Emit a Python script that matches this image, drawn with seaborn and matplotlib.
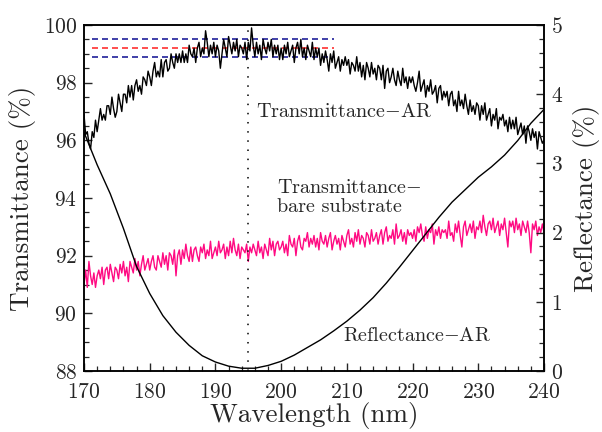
import numpy as np
import pandas as pd
import matplotlib
matplotlib.use("Agg")
import matplotlib.pyplot as plt
import seaborn as sns
from matplotlib.ticker import MultipleLocator

# transmittance scans, 170-240 nm every 0.25 nm
wl_start, wl_stop = 170, 240

# AR coated sample, transmittance (%)
t_ar = [96.9, 96.2, 96.3, 95.9, 95.7, 96.3, 96.1, 96.7, 96.3, 96.7, 97.1, 96.7, 96.9, 96.7, 97.2, 97.2, 96.9, 97.5, 97.1, 96.8,
        97.0, 97.6, 97.3, 97.0, 97.6, 97.6, 97.3, 97.9, 97.5, 97.9, 97.4, 97.9, 98.1, 97.7, 97.9, 97.6, 98.2, 98.1, 97.9, 98.4,
        98.2, 97.9, 98.4, 98.7, 98.2, 98.4, 98.2, 98.8, 98.2, 98.7, 98.8, 98.4, 98.5, 99.0, 98.7, 98.5, 99.0, 98.7, 99.0, 98.7,
        99.1, 98.7, 99.0, 98.7, 99.3, 99.0, 98.9, 99.2, 98.7, 99.2, 99.4, 98.9, 99.2, 99.0, 99.8, 99.4, 98.9, 99.3, 99.0, 99.4,
        98.9, 99.3, 99.1, 98.5, 99.0, 99.5, 99.2, 98.9, 99.6, 99.3, 99.0, 99.4, 99.1, 99.5, 98.9, 99.3, 99.2, 99.0, 99.4, 98.8,
        99.4, 99.1, 99.9, 99.3, 98.9, 99.4, 99.0, 99.3, 98.8, 99.5, 99.2, 99.0, 99.4, 99.1, 99.5, 98.9, 99.3, 99.0, 99.3, 98.8,
        99.2, 98.8, 99.3, 99.0, 99.4, 98.9, 99.1, 99.3, 98.7, 99.2, 99.4, 99.0, 99.5, 98.9, 99.2, 98.8, 99.3, 99.1, 98.9, 99.4,
        98.8, 99.2, 98.9, 99.2, 98.6, 99.0, 98.7, 99.1, 98.8, 98.4, 99.0, 98.7, 99.1, 98.5, 98.7, 98.9, 98.4, 98.8, 98.6, 98.9,
        98.6, 98.8, 98.3, 98.7, 98.6, 98.4, 98.9, 98.4, 98.7, 98.2, 98.6, 98.1, 98.7, 98.5, 98.2, 98.7, 98.3, 98.5, 98.1, 98.6,
        98.5, 98.1, 98.6, 97.8, 98.4, 98.5, 98.0, 98.2, 98.5, 98.1, 97.9, 98.4, 98.1, 97.9, 98.5, 98.0, 98.2, 97.8, 98.2, 98.0,
        98.2, 97.9, 97.7, 98.0, 98.4, 97.7, 97.9, 98.1, 97.5, 97.9, 97.7, 98.1, 97.6, 97.7, 97.9, 97.3, 97.8, 97.9, 97.4, 97.7,
        97.5, 97.7, 97.2, 97.6, 97.7, 97.2, 97.4, 97.0, 97.7, 97.2, 97.4, 97.1, 97.6, 97.2, 96.9, 97.4, 97.0, 97.2, 96.9, 97.3,
        97.2, 96.7, 97.2, 96.9, 97.3, 96.7, 96.9, 97.1, 96.5, 96.9, 96.7, 97.1, 96.4, 96.8, 96.7, 96.9, 96.5, 96.7, 96.3, 96.8,
        96.4, 96.7, 96.4, 96.8, 96.2, 96.4, 96.6, 96.2, 96.5, 95.9, 96.5, 96.3, 96.0, 96.4, 96.1, 96.3, 95.7, 96.3, 96.1, 95.9,
        96.0]

# bare substrate, transmittance (%)
t_bare = [91.0, 91.5, 90.9, 91.8, 91.3, 91.0, 91.4, 90.9, 91.3, 91.5, 91.2, 91.6, 91.0, 91.5, 91.6, 91.2, 91.7, 91.4, 91.1, 91.6,
          91.5, 91.2, 91.7, 91.4, 91.8, 91.3, 91.6, 91.1, 91.8, 91.6, 91.4, 91.9, 91.5, 91.8, 91.3, 91.7, 92.0, 91.5, 91.7, 91.9,
          91.5, 91.8, 92.0, 91.6, 91.5, 92.0, 91.8, 91.6, 92.1, 91.7, 92.0, 91.5, 92.1, 92.0, 91.7, 92.2, 91.3, 92.0, 92.2, 91.7,
          92.2, 91.9, 92.4, 92.0, 91.8, 92.3, 91.8, 92.2, 92.3, 92.0, 91.8, 92.3, 92.1, 92.4, 91.9, 92.2, 92.0, 92.5, 91.9, 92.1,
          92.3, 92.0, 92.5, 92.1, 92.2, 92.4, 91.9, 92.3, 92.0, 92.5, 92.1, 92.6, 92.2, 92.0, 92.4, 91.9, 92.3, 92.2, 92.1, 92.4,
          91.8, 92.3, 92.1, 92.4, 92.2, 92.0, 92.5, 92.1, 92.3, 91.9, 92.4, 92.2, 92.0, 92.6, 92.2, 92.5, 92.0, 92.4, 92.5, 92.2,
          92.3, 92.5, 92.1, 92.4, 92.0, 92.7, 92.4, 92.3, 92.6, 92.0, 92.5, 92.7, 92.3, 92.2, 92.6, 92.5, 92.8, 92.3, 92.6, 92.4,
          92.7, 92.3, 92.6, 92.2, 92.8, 92.5, 92.4, 92.7, 92.3, 92.6, 92.8, 92.2, 92.5, 92.7, 92.4, 92.6, 92.2, 92.7, 92.5, 92.3,
          92.7, 92.9, 92.4, 92.6, 92.3, 92.8, 92.5, 92.9, 92.4, 92.7, 92.6, 92.3, 92.8, 92.7, 92.4, 92.9, 92.5, 92.6, 92.8, 92.4,
          92.7, 92.9, 92.4, 92.8, 93.0, 92.5, 92.7, 92.6, 92.9, 92.4, 93.1, 92.6, 92.7, 92.9, 92.5, 92.8, 92.4, 92.9, 92.7, 92.8,
          92.6, 92.9, 92.5, 93.0, 92.8, 93.1, 92.7, 92.5, 93.0, 92.6, 92.9, 92.8, 93.1, 92.4, 92.9, 92.7, 93.0, 92.6, 92.9, 92.8,
          92.9, 92.6, 93.2, 92.7, 92.8, 92.5, 93.1, 92.8, 93.2, 92.7, 92.3, 93.0, 93.2, 92.7, 92.9, 93.1, 92.8, 93.2, 92.6, 93.0,
          92.9, 93.2, 92.8, 93.4, 93.0, 92.7, 93.1, 93.2, 92.9, 93.3, 92.8, 93.0, 93.2, 92.7, 93.1, 92.9, 93.3, 92.8, 92.3, 93.2,
          93.0, 93.2, 92.8, 93.3, 92.9, 93.1, 92.7, 93.2, 93.0, 92.8, 93.2, 92.8, 92.1, 93.1, 92.9, 93.2, 92.7, 93.0, 92.8, 93.1,
          92.8]

# AR coated sample, reflectance (%), every 2 nm
wl_refl = list(range(170, 241, 2))
refl_ar = [3.45, 2.98, 2.56, 2.06, 1.51, 1.12, 0.80, 0.56, 0.37, 0.22,
           0.13, 0.07, 0.04, 0.04, 0.08, 0.14, 0.23, 0.34, 0.45, 0.58,
           0.72, 0.88, 1.06, 1.27, 1.50, 1.74, 1.98, 2.22, 2.44, 2.62,
           2.80, 2.95, 3.12, 3.33, 3.58, 3.78]

# reference levels (dashed) and design wavelength (dotted)
ref_levels = [99.5, 99.2, 98.9]
ref_colors = ["#20209a", "#ff3030", "#20209a"]
ref_xmin, ref_xmax = 171.2, 208
design_wl = 195

wl = np.linspace(wl_start, wl_stop, len(t_ar))
wl_b = np.linspace(wl_start, wl_stop, len(t_bare))

sns.set_style("ticks")
plt.rcParams["font.family"] = ["cmr10", "DejaVu Serif"]
plt.rcParams["mathtext.fontset"] = "cm"
plt.rcParams["axes.formatter.use_mathtext"] = True

fig = plt.figure(figsize=(6.02, 4.32), dpi=100)
ax = fig.add_axes([84/602, 1-371/432, 460/602, 346/432])
ax2 = ax.twinx()

for lev, col in zip(ref_levels, ref_colors):
    ax.hlines(lev, ref_xmin, ref_xmax, colors=col, lw=1.2,
              linestyles=(0, (3.6, 2.4)), zorder=1)

sns.lineplot(x=wl_b, y=t_bare, ax=ax, color="#ff0a82", lw=1.0, zorder=2)
sns.lineplot(x=wl, y=t_ar, ax=ax, color="black", lw=1.0, zorder=3)
sns.lineplot(x=wl_refl, y=refl_ar, ax=ax2, color="black", lw=1.0)
ax.axvline(design_wl, color="black", lw=1.1, linestyle=(0, (1, 5)))

ax.set_xlim(wl_start, wl_stop)
ax.set_ylim(88, 100)
ax2.set_ylim(0, 5)

ax.xaxis.set_major_locator(MultipleLocator(10))
ax.xaxis.set_minor_locator(MultipleLocator(2))
ax.yaxis.set_major_locator(MultipleLocator(2))
ax.yaxis.set_minor_locator(MultipleLocator(0.5))
ax2.yaxis.set_major_locator(MultipleLocator(1))
ax2.yaxis.set_minor_locator(MultipleLocator(0.2))

for a in (ax, ax2):
    a.tick_params(which="major", direction="in", length=6, width=1,
                  labelsize=15.5, pad=5)
    a.tick_params(which="minor", direction="in", length=3.5, width=0.9)
    for s in a.spines.values():
        s.set_linewidth(1.1)
        s.set_color("black")
ax.tick_params(axis="y", which="both", right=False)
ax.tick_params(axis="x", which="both", top=False, pad=8)

ax.set_xlabel("Wavelength (nm)", fontsize=19.5)
ax.set_ylabel("Transmittance (%)", fontsize=19.5)
ax2.set_ylabel("Reflectance (%)", fontsize=19.5)
ax.xaxis.set_label_coords(0.5, -0.09)
ax.yaxis.set_label_coords(-0.105, 0.5)
ax2.yaxis.set_label_coords(1.062, 0.5)

ax.text(196.2, 96.97, "Transmittance$-$AR", fontsize=14.5, va="center", ha="left")
ax.text(199.4, 94.02, "Transmittance$-$\nbare substrate", fontsize=14.5,
        va="center", ha="left", linespacing=1.05)
ax.text(209.4, 89.2, "Reflectance$-$AR", fontsize=14.5, va="center", ha="left")

fig.savefig("out.png", dpi=100)
